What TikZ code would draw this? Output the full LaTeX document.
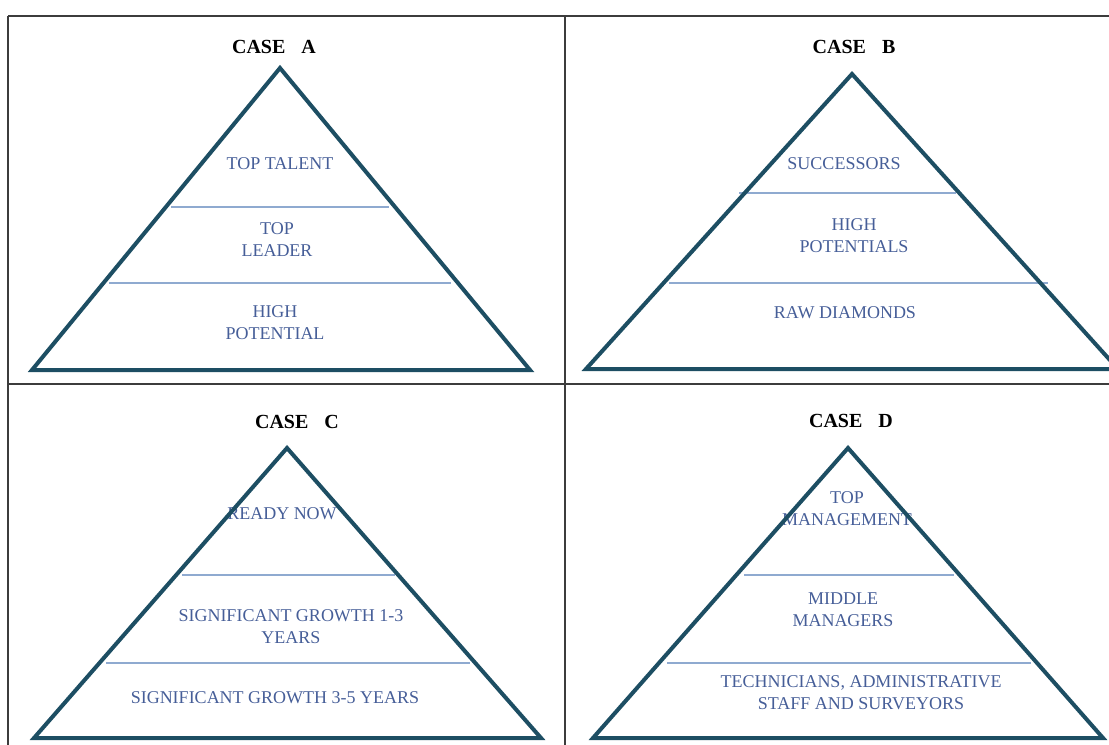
\documentclass[tikz,border=0pt]{standalone}
\usepackage{fontspec}
\setmainfont{Liberation Serif}

\definecolor{pyrline}{HTML}{1D4E63}
\definecolor{tierline}{HTML}{8FAAD0}
\definecolor{tiertext}{HTML}{465E98}
\definecolor{frameline}{HTML}{3C3C3C}

\begin{document}
\begin{tikzpicture}[x=0.75pt,y=-0.75pt,
    pyramid/.style={draw=pyrline,line width=3pt,line join=miter},
    tier/.style={draw=tierline,line width=1.5pt},
    cell/.style={draw=frameline,line width=1.5pt},
    case/.style={font=\fontsize{15}{18}\selectfont\bfseries},
    level/.style={text=tiertext,align=center,inner sep=0pt,
        font=\fontsize{13.5}{16.5}\selectfont}]

   \useasboundingbox (0,0) rectangle (1109,745);

   % table lines
   \coordinate (t_l) at (8,16);
   \coordinate (t_r) at (1109,16);
   \coordinate (b_l) at (8,745);
   \coordinate (t_m) at (565,16);
   \coordinate (b_m) at (565,745);
   \coordinate (m_l) at (8,383.5);
   \coordinate (m_r) at (1109,383.5);
   \draw[cell] (t_l) -- (t_r);
   \draw[cell] (t_l) -- (b_l);
   \draw[cell] (t_m) -- (b_m);
   \draw[cell] (m_l) -- (m_r);

   % case A
   \node[case] (caseA) at (274,47) {CASE\hspace{0.8em}A};
   \coordinate (A_top) at (280,68);
   \coordinate (A_l) at (32,370);
   \coordinate (A_r) at (530,370);
   \coordinate (A_1l) at (171,207);
   \coordinate (A_1r) at (389,207);
   \coordinate (A_2l) at (109,283);
   \coordinate (A_2r) at (451,283);
   \node[level] (A_tt) at (280,164) {TOP TALENT};
   \node[level] (A_tl) at (277,240) {TOP\\LEADER};
   \node[level] (A_hp) at (275,323) {HIGH\\POTENTIAL};
   \draw[tier] (A_1l) -- (A_1r);
   \draw[tier] (A_2l) -- (A_2r);
   \draw[pyramid] (A_top) -- (A_l) -- (A_r) -- cycle;

   % case B
   \node[case] (caseB) at (854,47) {CASE\hspace{0.8em}B};
   \coordinate (B_top) at (852,74);
   \coordinate (B_l) at (586,369);
   \coordinate (B_r) at (1118,369);
   \coordinate (B_1l) at (739,193);
   \coordinate (B_1r) at (956,193);
   \coordinate (B_2l) at (669,283);
   \coordinate (B_2r) at (1048,283);
   \node[level] (B_su) at (844,164) {SUCCESSORS};
   \node[level] (B_hp) at (854,236) {HIGH\\POTENTIALS};
   \node[level] (B_rd) at (845,313) {RAW DIAMONDS};
   \draw[tier] (B_1l) -- (B_1r);
   \draw[tier] (B_2l) -- (B_2r);
   \draw[pyramid] (B_top) -- (B_l) -- (B_r) -- cycle;

   % case C
   \node[case] (caseC) at (297,422) {CASE\hspace{0.8em}C};
   \coordinate (C_top) at (287,448);
   \coordinate (C_l) at (34,738);
   \coordinate (C_r) at (541,738);
   \coordinate (C_1l) at (182,575);
   \coordinate (C_1r) at (395,575);
   \coordinate (C_2l) at (106,663);
   \coordinate (C_2r) at (470,663);
   \node[level] (C_rn) at (282,514) {READY NOW};
   \node[level] (C_g13) at (291,626.5) {SIGNIFICANT GROWTH 1-3\\YEARS};
   \node[level] (C_g35) at (275,698) {SIGNIFICANT GROWTH 3-5 YEARS};
   \draw[tier] (C_1l) -- (C_1r);
   \draw[tier] (C_2l) -- (C_2r);
   \draw[pyramid] (C_top) -- (C_l) -- (C_r) -- cycle;

   % case D
   \node[case] (caseD) at (851,421) {CASE\hspace{0.8em}D};
   \coordinate (D_top) at (848,448);
   \coordinate (D_l) at (593,738);
   \coordinate (D_r) at (1103,738);
   \coordinate (D_1l) at (744,575);
   \coordinate (D_1r) at (954,575);
   \coordinate (D_2l) at (667,663);
   \coordinate (D_2r) at (1031,663);
   \node[level] (D_tm) at (847,509) {TOP\\MANAGEMENT};
   \node[level] (D_mm) at (843,609.5) {MIDDLE\\MANAGERS};
   \node[level] (D_ts) at (861,693) {TECHNICIANS, ADMINISTRATIVE\\STAFF AND SURVEYORS};
   \draw[tier] (D_1l) -- (D_1r);
   \draw[tier] (D_2l) -- (D_2r);
   \draw[pyramid] (D_top) -- (D_l) -- (D_r) -- cycle;
\end{tikzpicture}
\end{document}
